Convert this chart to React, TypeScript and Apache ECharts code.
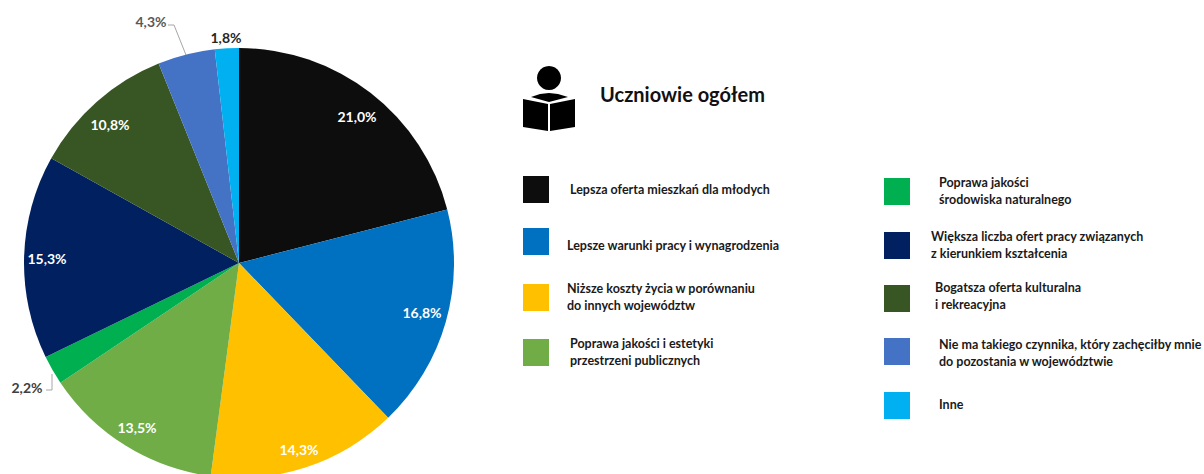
import React, { useEffect, useRef } from "react";
import * as echarts from "echarts";

const categories = [
  "Lepsza oferta mieszkań dla młodych",
  "Lepsze warunki pracy i wynagrodzenia",
  "Niższe koszty życia w porównaniu\ndo innych województw",
  "Poprawa jakości i estetyki\nprzestrzeni publicznych",
  "Poprawa jakości\nśrodowiska naturalnego",
  "Większa liczba ofert pracy związanych\nz kierunkiem kształcenia",
  "Bogatsza oferta kulturalna\ni rekreacyjna",
  "Nie ma takiego czynnika, który zachęciłby mnie\ndo pozostania w województwie",
  "Inne",
];
const values = [21.0, 16.8, 14.3, 13.5, 2.2, 15.3, 10.8, 4.3, 1.8];
const sliceColors = ["#0d0d0d", "#0070c0", "#ffc000", "#70ad47", "#00b050", "#002060", "#375623", "#4472c4", "#00b0f0"];
const labelColors = ["#fff", "#fff", "#fff", "#fff", "#404040", "#fff", "#fff", "#595959", "#262626"];
const labelSpots = [[357, 116], [422, 312], [299, 449], [137, 427], [27, 387], [47, 258], [110, 124], [151, 21], [226, 37]];
const swatchSpots = [[523, 176], [523, 228], [523, 284], [523, 339], [884, 178], [884, 232], [884, 285], [884, 338], [884, 392]];
const textSpots = [[570, 189], [567, 245], [567, 297], [570, 352], [939, 191], [931, 245], [935, 296], [939, 353], [939, 404]];
const TITLE = "Uczniowie ogółem";
const FONT = "Lato";

export default function App() {
  const ref = useRef<HTMLDivElement>(null);
  useEffect(() => {
    document.body.style.margin = "0";
    const chart = echarts.init(ref.current!, null, { renderer: "svg" });
    const legend: any[] = [];
    categories.forEach((name, i) => {
      legend.push({
        type: "rect",
        shape: { x: swatchSpots[i][0], y: swatchSpots[i][1], width: 26, height: 27 },
        style: { fill: sliceColors[i] },
      });
      legend.push({
        type: "text",
        x: textSpots[i][0],
        y: textSpots[i][1],
        style: {
          text: name,
          font: `bold 12.5px ${FONT}`,
          fill: "#1a1a1a",
          verticalAlign: "middle",
          lineHeight: 17,
        },
      });
    });
    chart.setOption({
      animation: false,
      backgroundColor: "#fff",
      series: [
        {
          type: "pie",
          center: [239, 263],
          radius: [0, 215],
          startAngle: 90,
          clockwise: true,
          silent: true,
          label: { position: "inside", formatter: (p: any) => p.value.toFixed(1).replace(".", ",") + "%", fontFamily: FONT, fontWeight: "bold", fontSize: 14 },
          labelLine: { show: false },
          labelLayout: (p: any) => ({ x: labelSpots[p.dataIndex][0], y: labelSpots[p.dataIndex][1], align: "center", verticalAlign: "middle" }),
          data: values.map((value, i) => ({
            name: categories[i],
            value,
            itemStyle: { color: sliceColors[i] },
            label: { color: labelColors[i] },
          })),
        },
      ],
      graphic: [
        { type: "polyline", shape: { points: [[168, 25], [174, 25], [186, 55]] }, style: { stroke: "#a6a6a6", lineWidth: 1, fill: "none" } },
        { type: "polyline", shape: { points: [[46, 390], [52, 390], [52, 374]] }, style: { stroke: "#a6a6a6", lineWidth: 1, fill: "none" } },
        { type: "circle", shape: { cx: 549, cy: 78, r: 12 }, style: { fill: "#000" } },
        { type: "polygon", shape: { points: [[531, 97], [540, 94], [549, 93], [558, 94], [568, 97], [549, 102]] }, style: { fill: "#000" } },
        { type: "polygon", shape: { points: [[523, 99], [548, 104], [548, 131], [523, 127]] }, style: { fill: "#000" } },
        { type: "polygon", shape: { points: [[550, 104], [575, 99], [575, 127], [550, 131]] }, style: { fill: "#000" } },
        { type: "text", x: 600, y: 94, style: { text: TITLE, font: `bold 20px ${FONT}`, fill: "#111", verticalAlign: "middle" } },
        ...legend,
      ],
    });
    return () => chart.dispose();
  }, []);
  return <div ref={ref} style={{ width: 1204, height: 474 }} />;
}
